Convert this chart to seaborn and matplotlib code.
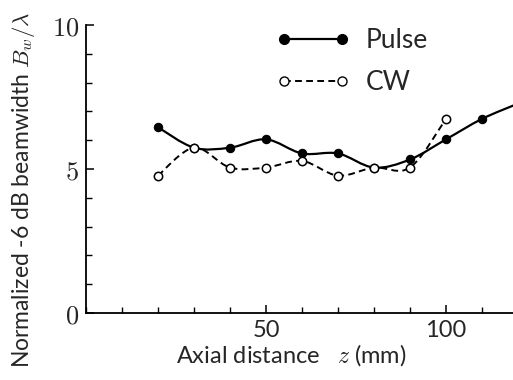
import numpy as np
import pandas as pd
import matplotlib
matplotlib.use("Agg")
import matplotlib.pyplot as plt
from matplotlib.path import Path
from matplotlib.patches import PathPatch
from matplotlib.lines import Line2D
from matplotlib.ticker import FixedLocator, FixedFormatter, MultipleLocator
import seaborn as sns

# ---- data ----
pulse_z = [20, 30, 40, 50, 60, 70, 80, 90, 100, 110, 120]
pulse_bw = [6.45, 5.74, 5.74, 6.03, 5.54, 5.54, 5.05, 5.33, 6.03, 6.74, 7.27]
cw_z = [20, 30, 40, 50, 60, 70, 80, 90, 100]
cw_bw = [4.77, 5.74, 5.05, 5.05, 5.28, 4.77, 5.05, 5.05, 6.74]
x_ticks = [50, 100]
x_tick_labels = ["50", "100"]
y_ticks = [0, 5, 10]
y_tick_labels = ["$0$", "$5$", "$10$"]

sns.set_theme(style="white")
plt.rcParams["font.family"] = ["Lato", "DejaVu Sans"]
plt.rcParams["mathtext.fontset"] = "cm"

fig = plt.figure(figsize=(5.13, 3.80), dpi=100)
ax = fig.add_axes([86 / 513, 1 - 313 / 380, 432 / 513, 288 / 380])


def smooth_path(xs, ys):
    p = np.column_stack([xs, ys]).astype(float)
    n = len(p)
    verts = [p[0]]
    codes = [Path.MOVETO]
    for i in range(n - 1):
        p0 = p[i - 1] if i > 0 else p[i]
        p1 = p[i]
        p2 = p[i + 1]
        p3 = p[i + 2] if i + 2 < n else p[i + 1]
        c1 = p1 + (p2 - p0) / 6.0
        c2 = p2 - (p3 - p1) / 6.0
        verts += [c1, c2, p2]
        codes += [Path.CURVE4] * 3
    return Path(verts, codes)


ax.add_patch(PathPatch(smooth_path(pulse_z, pulse_bw), fill=False,
                       edgecolor="black", lw=1.6, zorder=2))
ax.add_patch(PathPatch(smooth_path(cw_z, cw_bw), fill=False,
                       edgecolor="black", lw=1.4, linestyle=(0, (3.5, 2.2)), zorder=2))

dfp = pd.DataFrame({"z": pulse_z, "bw": pulse_bw})
dfc = pd.DataFrame({"z": cw_z, "bw": cw_bw})
sns.scatterplot(data=dfp, x="z", y="bw", ax=ax, color="black", s=36,
                edgecolor="black", linewidth=0.8, zorder=3, legend=False)
sns.scatterplot(data=dfc, x="z", y="bw", ax=ax, facecolor="white", s=36,
                edgecolor="black", linewidth=1.1, zorder=3, legend=False)

ax.set_xlim(0, 120)
ax.set_ylim(0, 10)
ax.set_xlabel("Axial distance   $z$ (mm)", fontsize=17)
ax.set_ylabel("Normalized -6 dB beamwidth $B_w/\\lambda$", fontsize=16.5)
ax.xaxis.set_label_coords((291 - 86) / 432, -(355 - 313) / 288)
ax.xaxis.label.set_va("center")
ax.yaxis.set_label_coords(-(86 - 37) / 432, (313 - 190) / 288)

ax.xaxis.set_major_locator(FixedLocator(x_ticks))
ax.xaxis.set_major_formatter(FixedFormatter(x_tick_labels))
ax.xaxis.set_minor_locator(MultipleLocator(10))
ax.yaxis.set_major_locator(FixedLocator(y_ticks))
ax.yaxis.set_major_formatter(FixedFormatter(y_tick_labels))
ax.yaxis.set_minor_locator(MultipleLocator(1))
ax.tick_params(axis="x", which="both", labelsize=17)
ax.tick_params(axis="y", which="both", labelsize=19)
ax.tick_params(which="both", direction="in", color="black",
               bottom=True, left=True, top=False, right=False)
ax.tick_params(which="major", length=6, width=1.1, pad=5)
ax.tick_params(which="minor", length=4, width=1.0)

for s in ["top", "right"]:
    ax.spines[s].set_visible(False)
for s in ["left", "bottom"]:
    ax.spines[s].set_color("black")
    ax.spines[s].set_linewidth(1.3)

handles = [
    Line2D([], [], color="black", lw=1.6, marker="o", markersize=7,
           markerfacecolor="black", markeredgecolor="black"),
    Line2D([], [], color="black", lw=1.4, linestyle=(0, (3.5, 2.2)), marker="o",
           markersize=6.5, markerfacecolor="white", markeredgecolor="black"),
]
leg = fig.legend(handles, ["Pulse", "CW"], loc="upper left",
                 bbox_to_anchor=(276 / 513, 1 - 28 / 380), frameon=False,
                 fontsize=19, numpoints=2, handlelength=2.8, handletextpad=0.6,
                 labelspacing=0.65, borderaxespad=0, borderpad=0)

fig.savefig("out.png", dpi=100)
